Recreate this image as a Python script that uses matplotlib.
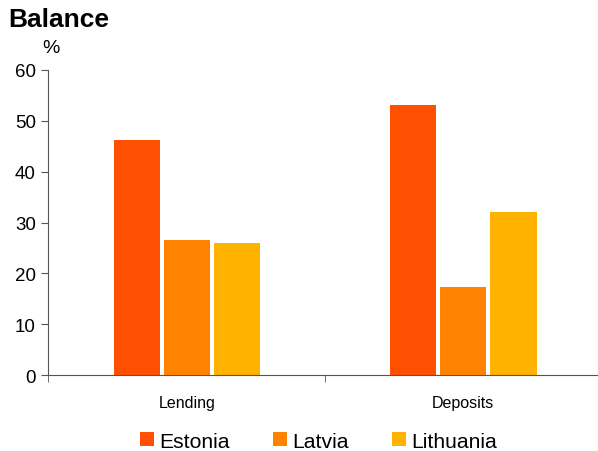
import matplotlib.pyplot as plt
import numpy as np

plt.rcParams['font.family'] = ['Liberation Sans', 'DejaVu Sans']

categories = ['Lending', 'Deposits']
countries = ['Estonia', 'Latvia', 'Lithuania']
values = {
    'Estonia': [46.2, 53.1],
    'Latvia': [26.6, 17.3],
    'Lithuania': [26.0, 32.1],
}
colors = ['#FF4F00', '#FF8200', '#FFB200']

fig = plt.figure(figsize=(5.98, 4.52), dpi=100)
ax = fig.add_axes([0.0811, 0.168, 0.925, 0.675])

x = np.arange(len(categories))
slot = 0.181
width = 0.167
for i, c in enumerate(countries):
    ax.bar(x + (i - 1) * slot, values[c], width, color=colors[i], label=c)

ax.set_xlim(-0.5, 1.5)
ax.set_ylim(0, 60)
ax.set_yticks(range(0, 61, 10))
ax.tick_params(axis='y', labelsize=13.5, length=5, color='#555555', pad=4)

ax.set_xticks(x)
ax.set_xticklabels(categories, fontsize=11.5)
ax.set_xticks([-0.5, 0.5, 1.5], minor=True)
ax.tick_params(axis='x', which='major', length=0, pad=14)
ax.tick_params(axis='x', which='minor', length=5, color='#555555')

for s in ['top', 'right']:
    ax.spines[s].set_visible(False)
for s in ['left', 'bottom']:
    ax.spines[s].set_color('#555555')

fig.text(0.013, 0.955, 'Balance', fontsize=19, fontweight='bold', va='center')
fig.text(0.071, 0.893, '%', fontsize=14, va='center')

fig.legend(loc='center', bbox_to_anchor=(0.533, 0.022), ncol=3, frameon=False,
           fontsize=15.2, handlelength=0.66, handleheight=0.66, handletextpad=0.25,
           columnspacing=2.05, borderpad=0.1)

fig.savefig('out.png', dpi=100)
